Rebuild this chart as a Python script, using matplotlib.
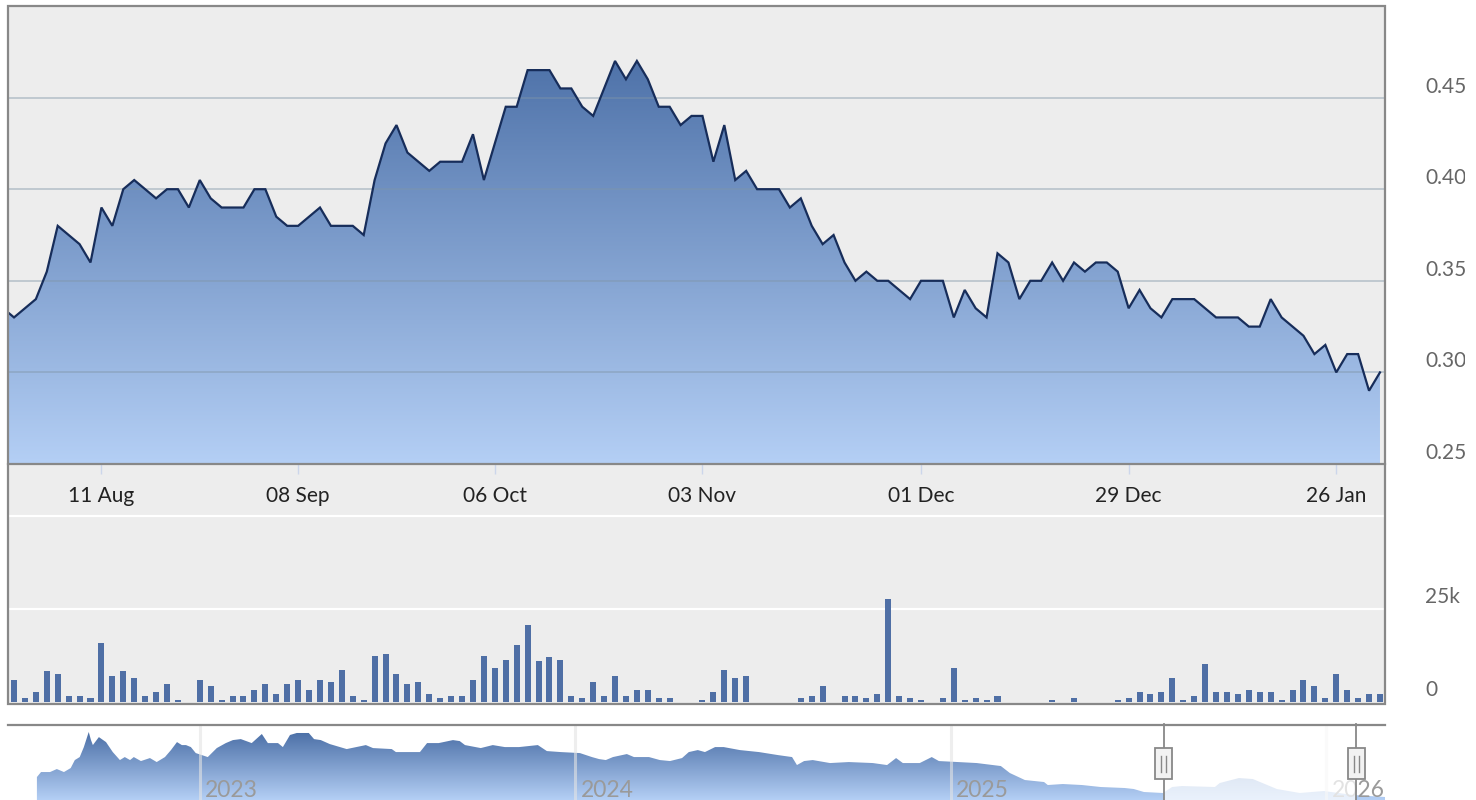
import numpy as np
import matplotlib
matplotlib.use("Agg")
import matplotlib.pyplot as plt
from matplotlib.colors import LinearSegmentedColormap
from matplotlib.patches import Rectangle
from matplotlib.transforms import Bbox, ScaledTranslation, blended_transform_factory
import matplotlib.lines as mlines

plt.rcParams['font.family'] = ['Lato', 'DejaVu Sans']

# ---------------- data ----------------
# closing prices, one per trading day (first value lies just before the visible window)
prices = [0.335,
          0.330, 0.335, 0.340, 0.355, 0.380, 0.375, 0.370, 0.360, 0.390, 0.380,
          0.400, 0.405, 0.400, 0.395, 0.400, 0.400, 0.390, 0.405, 0.395, 0.390,
          0.390, 0.390, 0.400, 0.400, 0.385, 0.380, 0.380, 0.385, 0.390, 0.380,
          0.380, 0.380, 0.375, 0.405, 0.425, 0.435, 0.420, 0.415, 0.410, 0.415,
          0.415, 0.415, 0.430, 0.405, 0.425, 0.445, 0.445, 0.465, 0.465, 0.465,
          0.455, 0.455, 0.445, 0.440, 0.455, 0.470, 0.460, 0.470, 0.460, 0.445,
          0.445, 0.435, 0.440, 0.440, 0.415, 0.435, 0.405, 0.410, 0.400, 0.400,
          0.400, 0.390, 0.395, 0.380, 0.370, 0.375, 0.360, 0.350, 0.355, 0.350,
          0.350, 0.345, 0.340, 0.350, 0.350, 0.350, 0.330, 0.345, 0.335, 0.330,
          0.365, 0.360, 0.340, 0.350, 0.350, 0.360, 0.350, 0.360, 0.355, 0.360,
          0.360, 0.355, 0.335, 0.345, 0.335, 0.330, 0.340, 0.340, 0.340, 0.335,
          0.330, 0.330, 0.330, 0.325, 0.325, 0.340, 0.330, 0.325, 0.320, 0.310,
          0.315, 0.300, 0.310, 0.310, 0.290, 0.300]

# traded volume (thousands of shares), one per trading day of the visible window
volumes_k = [6.0, 1.1, 2.7, 8.2, 7.6, 1.6, 1.6, 1.1, 15.8, 7.1,
             8.2, 6.5, 1.6, 2.7, 4.9, 0.5, 0.0, 6.0, 4.3, 0.5,
             1.6, 1.6, 3.3, 4.9, 2.2, 4.9, 6.0, 3.3, 6.0, 5.4,
             8.7, 1.6, 0.5, 12.5, 13.0, 7.6, 4.9, 5.4, 2.2, 1.1,
             1.6, 1.6, 6.0, 12.5, 9.2, 11.4, 15.2, 20.6, 10.9, 12.0,
             11.4, 1.6, 1.1, 5.4, 1.6, 7.1, 1.6, 3.3, 3.3, 1.1,
             1.1, 0.0, 0.0, 0.5, 2.7, 8.7, 6.5, 7.1, 0.0, 0.0,
             0.0, 0.0, 1.1, 1.6, 4.3, 0.0, 1.6, 1.6, 1.1, 2.2,
             27.7, 1.6, 1.1, 0.5, 0.0, 1.1, 9.2, 0.5, 1.1, 0.5,
             1.6, 0.0, 0.0, 0.0, 0.0, 0.5, 0.0, 1.1, 0.0, 0.0,
             0.0, 0.5, 1.1, 2.7, 2.2, 2.7, 6.5, 0.5, 1.6, 10.3,
             2.7, 2.7, 2.2, 3.3, 2.7, 2.7, 0.5, 3.3, 6.0, 4.3,
             1.1, 7.6, 3.3, 1.1, 2.2, 2.2]

# x-axis date labels and the trading-day index at which each falls
date_labels = ['11 Aug', '08 Sep', '06 Oct', '03 Nov', '01 Dec', '29 Dec', '26 Jan']
date_label_index = [8, 26, 44, 63, 83, 102, 121]

price_ticks = [0.25, 0.30, 0.35, 0.40, 0.45]
price_tick_labels = ['0.25', '0.30', '0.35', '0.40', '0.45']
volume_ticks = [0, 25000]
volume_tick_labels = ['0', '25k']

# navigator: long price history (time in fractional years)
nav_years = [2022.566, 2022.577, 2022.601, 2022.619, 2022.638, 2022.656, 2022.667, 2022.680, 2022.691, 2022.704,
             2022.710, 2022.715, 2022.731, 2022.750, 2022.768, 2022.787, 2022.800, 2022.814, 2022.824, 2022.843,
             2022.867, 2022.885, 2022.907, 2022.923, 2022.939, 2022.952, 2022.963, 2022.976, 2022.989, 2023.021,
             2023.045, 2023.069, 2023.088, 2023.109, 2023.138, 2023.165, 2023.181, 2023.208, 2023.221, 2023.240,
             2023.258, 2023.290, 2023.304, 2023.322, 2023.346, 2023.391, 2023.442, 2023.461, 2023.511, 2023.522,
             2023.586, 2023.605, 2023.636, 2023.674, 2023.692, 2023.706, 2023.748, 2023.780, 2023.812, 2023.850,
             2023.900, 2023.924, 2023.961, 2024.012, 2024.044, 2024.063, 2024.081, 2024.100, 2024.137, 2024.156,
             2024.196, 2024.225, 2024.252, 2024.284, 2024.302, 2024.326, 2024.345, 2024.372, 2024.395, 2024.438,
             2024.489, 2024.539, 2024.577, 2024.590, 2024.609, 2024.632, 2024.678, 2024.728, 2024.792, 2024.830,
             2024.854, 2024.872, 2024.917, 2024.949, 2024.968, 2025.019, 2025.069, 2025.133, 2025.157, 2025.197,
             2025.248, 2025.258, 2025.298, 2025.349, 2025.399, 2025.463, 2025.487, 2025.514, 2025.565, 2025.589,
             2025.615, 2025.703, 2025.716, 2025.767, 2025.804, 2025.868, 2025.929, 2025.993, 2026.071, 2026.156]
nav_values = [0.474, 0.519, 0.519, 0.546, 0.519, 0.555, 0.627, 0.654, 0.744, 0.880,
              0.807, 0.762, 0.834, 0.789, 0.699, 0.627, 0.654, 0.627, 0.654, 0.618,
              0.645, 0.609, 0.654, 0.717, 0.789, 0.762, 0.762, 0.744, 0.690, 0.654,
              0.735, 0.780, 0.807, 0.816, 0.780, 0.862, 0.780, 0.780, 0.744, 0.853,
              0.871, 0.871, 0.816, 0.807, 0.771, 0.726, 0.762, 0.735, 0.726, 0.699,
              0.699, 0.780, 0.780, 0.807, 0.798, 0.762, 0.735, 0.762, 0.744, 0.744,
              0.762, 0.708, 0.699, 0.690, 0.654, 0.636, 0.627, 0.654, 0.681, 0.654,
              0.654, 0.627, 0.618, 0.645, 0.699, 0.717, 0.699, 0.744, 0.744, 0.717,
              0.699, 0.672, 0.654, 0.582, 0.618, 0.627, 0.600, 0.609, 0.600, 0.582,
              0.645, 0.600, 0.600, 0.654, 0.618, 0.609, 0.600, 0.573, 0.510, 0.447,
              0.429, 0.402, 0.411, 0.402, 0.384, 0.375, 0.366, 0.339, 0.330, 0.384,
              0.393, 0.384, 0.420, 0.465, 0.456, 0.366, 0.330, 0.348, 0.312, 0.294]
nav_year_labels = [2023, 2024, 2025, 2026]
nav_selection = (2025.567, 2026.079)

# ---------------- layout helpers ----------------
W, H = 1476, 800
fig = plt.figure(figsize=(W / 100, H / 100), dpi=100)


def axes_px(x0, y0, x1, y1):
    return fig.add_axes([x0 / W, 1 - y1 / H, (x1 - x0) / W, (y1 - y0) / H])


def fyp(py):
    return 1 - py / H


XMIN, XMAX = -0.55, 125.46
price_idx = np.arange(len(prices)) - 1
vol_idx = np.arange(len(volumes_k))

TOP_C = '#41669f'
BOT_C = '#b4cff5'
cmap = LinearSegmentedColormap.from_list('area', [BOT_C, TOP_C])


def gradient_area(ax, x, y, base, xlim, ylim, z=2):
    poly = ax.fill_between(x, y, base, facecolor='none', edgecolor='none')
    path = poly.get_paths()[0]
    grad = np.linspace(0, 1, 256).reshape(-1, 1)
    im = ax.imshow(grad, aspect='auto', cmap=cmap, origin='lower',
                   extent=[xlim[0], xlim[1], ylim[0], ylim[1]], zorder=z,
                   interpolation='bilinear')
    im.set_clip_path(path, transform=ax.transData)
    return im


# background block + border
fig.add_artist(Rectangle((8 / W, fyp(704)), 1377 / W, 698 / H, transform=fig.transFigure,
                         facecolor='#ededed', edgecolor='none', zorder=-5))
fig.add_artist(Rectangle((8 / W, fyp(704)), 1377 / W, 698 / H, transform=fig.transFigure,
                         facecolor='none', edgecolor='#888888', lw=1.6, zorder=20))

label_clip = Bbox.from_extents(0, 0, 1465, H)

# ---------------- price panel ----------------
axp = axes_px(8, 6, 1385, 464)
axp.set_facecolor('none')
axp.set_xlim(XMIN, XMAX)
axp.set_ylim(0.25, 0.50)
for s in axp.spines.values():
    s.set_visible(False)
axp.spines['bottom'].set_visible(True)
axp.spines['bottom'].set_color('#888888')
axp.spines['bottom'].set_linewidth(1.6)
axp.spines['bottom'].set_zorder(10)

gradient_area(axp, price_idx, prices, 0.25, (XMIN, XMAX), (0.25, 0.50))
for v in price_ticks[1:]:
    axp.axhline(v, color='#7f95a8', alpha=0.42, lw=1.4, zorder=3)
axp.plot(price_idx, prices, color='#172d5a', lw=1.6, zorder=4, solid_joinstyle='miter')

axp.set_yticks([])
axp.set_xticks(date_label_index)
axp.set_xticklabels(date_labels)
axp.tick_params(axis='x', length=7, width=1, color='#ccd6eb', labelsize=15,
                labelcolor='#222222', pad=9)

tr = blended_transform_factory(fig.transFigure, axp.transData) + \
    ScaledTranslation(0, 11 / 100, fig.dpi_scale_trans)
for v, lab in zip(price_ticks, price_tick_labels):
    t = fig.text(1425 / W, v, lab, transform=tr, ha='left', va='center',
                 fontsize=15, color='#666666')
    t.set_clip_on(True)
    t.set_clip_box(label_clip)

# ---------------- volume panel ----------------
axv = axes_px(8, 516, 1385, 702)
axv.set_facecolor('none')
axv.set_xlim(XMIN, XMAX)
axv.set_ylim(0, 50000)
for s in axv.spines.values():
    s.set_visible(False)
axv.set_xticks([])
axv.set_yticks([])
for v in (25000, 50000):
    axv.axhline(v, color='white', lw=1.6, zorder=1, clip_on=False)
axv.bar(vol_idx, np.array(volumes_k) * 1000, width=0.55, color='#4f6fa5', zorder=3)

trv = blended_transform_factory(fig.transFigure, axv.transData) + \
    ScaledTranslation(0, 12 / 100, fig.dpi_scale_trans)
for v, lab in zip(volume_ticks, volume_tick_labels):
    fig.text(1425 / W, v, lab, transform=trv, ha='left', va='center',
             fontsize=15, color='#666666')

# ---------------- navigator ----------------
NXMIN, NXMAX = 2022.489, 2026.156
NYMIN, NYMAX = 0.267, 0.943
axn = axes_px(8, 725, 1385, 800)
axn.set_facecolor('none')
axn.set_xlim(NXMIN, NXMAX)
axn.set_ylim(NYMIN, NYMAX)
for s in axn.spines.values():
    s.set_visible(False)
axn.set_xticks([])
axn.set_yticks([])
gradient_area(axn, nav_years, nav_values, NYMIN, (NXMIN, NXMAX), (NYMIN, NYMAX))
for yr in nav_year_labels:
    axn.axvline(yr, color='#e4e4e4', alpha=0.6, lw=2.2, zorder=3)
trn = blended_transform_factory(axn.transData, fig.transFigure) + \
    ScaledTranslation(5 / 100, 0, fig.dpi_scale_trans)
for yr in nav_year_labels:
    axn.text(yr, fyp(797), str(yr), transform=trn, ha='left', va='baseline',
             fontsize=16.5, color='#9a9a9a', zorder=4)
# selected range mask
axn.add_patch(Rectangle((nav_selection[0], NYMIN), nav_selection[1] - nav_selection[0],
                        NYMAX - NYMIN, facecolor='white', alpha=0.72, edgecolor='none', zorder=5))

fig.add_artist(mlines.Line2D([8 / W, 1385 / W], [fyp(724.5)] * 2, transform=fig.transFigure,
                             color='#888888', lw=1.6, zorder=6))
trh = blended_transform_factory(axn.transData, fig.transFigure)
for sx in nav_selection:
    axn.plot([sx, sx], [fyp(724), 0], transform=trh, color='#888888', lw=1.3,
             zorder=6, clip_on=False)
    xfig = fig.transFigure.inverted().transform(axn.transData.transform((sx, NYMIN)))[0]
    box = Rectangle((xfig - 8.5 / W, fyp(779)), 17 / W, 31 / H, facecolor='#f2f2f2',
                    edgecolor='#888888', lw=1.3, transform=fig.transFigure, zorder=7)
    fig.add_artist(box)
    for dx in (-2.5, 2.5):
        fig.add_artist(mlines.Line2D([xfig + dx / W] * 2, [fyp(756), fyp(772)],
                                     transform=fig.transFigure, color='#888888', lw=1.0, zorder=8))

fig.savefig('out.png', dpi=100)
